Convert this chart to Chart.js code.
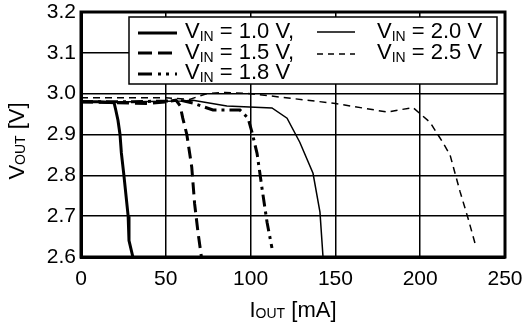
<!DOCTYPE html>
<html>
<head>
<meta charset="utf-8">
<script src="https://cdn.jsdelivr.net/npm/chart.js@4/dist/chart.umd.min.js"></script>
<style>
    body { margin: 0; background: #fff; }
    #wrap { width: 523px; height: 324px; }
</style>
</head>
<body>
<div id="wrap"><canvas id="vinChart" width="523" height="324"></canvas></div>
<script>
var xTicks = [0, 50, 100, 150, 200, 250];
var yTicks = [2.6, 2.7, 2.8, 2.9, 3.0, 3.1, 3.2];

// I_OUT [mA] / V_OUT [V]
var iVin10 = [0, 10, 19.5, 20.5, 21.8, 23, 23.8, 25.3, 27.8, 28.3, 30.6];
var vVin10 = [2.98, 2.98, 2.978, 2.96, 2.935, 2.9, 2.855, 2.8, 2.7, 2.64, 2.6];

var iVin15 = [0, 20, 40, 50, 56, 58.5, 60, 62.4, 65.3, 67, 69, 71];
var vVin15 = [2.98, 2.978, 2.976, 2.98, 2.984, 2.97, 2.94, 2.9, 2.82, 2.73, 2.66, 2.6];

var iVin18 = [0, 30, 50, 58.4, 66, 77.8, 93.7, 98.5, 100.8, 103.8, 106.7, 109.7, 112.6];
var vVin18 = [2.98, 2.98, 2.982, 2.984, 2.977, 2.96, 2.96, 2.94, 2.906, 2.854, 2.769, 2.685, 2.622];

var iVin20 = [0, 30, 60, 66, 86, 112.6, 121.5, 129, 136.8, 140.9, 142.7];
var vVin20 = [2.98, 2.98, 2.982, 2.984, 2.97, 2.965, 2.94, 2.881, 2.805, 2.71, 2.6];

var iVin25 = [0, 30, 50, 64, 74, 85, 100, 150, 180.5, 195.7, 205.8, 213.4, 217.6, 223.5, 228.2, 232.9];
var vVin25 = [2.99, 2.99, 2.99, 2.986, 3.0, 3.003, 3.0, 2.976, 2.955, 2.966, 2.93, 2.88, 2.85, 2.76, 2.695, 2.625];

var FONT = "'Liberation Sans', Arial, sans-serif";

function toPoints(xs, ys) {
    var pts = [];
    for (var i = 0; i < xs.length; i++) {
        pts.push({x: xs[i], y: ys[i]});
    }
    return pts;
}

function curve(label, xs, ys, width, dash) {
    return {
        label: label,
        data: toPoints(xs, ys),
        borderColor: "#000",
        borderWidth: width,
        borderDash: dash,
        borderCapStyle: "butt",
        pointRadius: 0,
        tension: 0,
        fill: false
    };
}

// text with a subscript part, e.g. V + IN + " = 1.0 V,"
function subText(ctx, x, y, main, sub, rest, size, subSize, drop) {
    ctx.textBaseline = "alphabetic";
    ctx.textAlign = "left";
    ctx.font = size + "px " + FONT;
    ctx.fillText(main, x, y);
    x += ctx.measureText(main).width;
    ctx.font = subSize + "px " + FONT;
    ctx.fillText(sub, x, y + drop);
    x += ctx.measureText(sub).width;
    ctx.font = size + "px " + FONT;
    ctx.fillText(rest, x, y);
    return x + ctx.measureText(rest).width;
}

function subWidth(ctx, main, sub, rest, size, subSize) {
    ctx.font = size + "px " + FONT;
    var w = ctx.measureText(main).width + ctx.measureText(rest).width;
    ctx.font = subSize + "px " + FONT;
    return w + ctx.measureText(sub).width;
}

var legendRows = [
    {x1: 138, x2: 177, y: 33, tx: 185, ty: 38, width: 3, dash: [], text: " = 1.0 V,"},
    {x1: 138, x2: 177, y: 53, tx: 185, ty: 59, width: 3, dash: [14, 6], text: " = 1.5 V,"},
    {x1: 138, x2: 177, y: 74, tx: 185, ty: 79, width: 3, dash: [14, 6, 3, 5, 3, 6], text: " = 1.8 V"},
    {x1: 317, x2: 355, y: 32, tx: 377, ty: 38, width: 1.5, dash: [], text: " = 2.0 V"},
    {x1: 317, x2: 355, y: 54, tx: 377, ty: 59, width: 1.5, dash: [6, 5], text: " = 2.5 V"}
];

var decorPlugin = {
    id: "decor",
    afterDatasetsDraw: function (chart) {
        var ctx = chart.ctx;
        var area = chart.chartArea;
        ctx.save();

        // legend box
        ctx.fillStyle = "#fff";
        ctx.fillRect(129, 17, 368, 67);
        ctx.strokeStyle = "#000";
        ctx.lineWidth = 1.5;
        ctx.strokeRect(129, 17, 368, 67);

        ctx.fillStyle = "#000";
        for (var i = 0; i < legendRows.length; i++) {
            var r = legendRows[i];
            ctx.beginPath();
            ctx.lineWidth = r.width;
            ctx.lineCap = "butt";
            ctx.setLineDash(r.dash);
            ctx.moveTo(r.x1, r.y);
            ctx.lineTo(r.x2, r.y);
            ctx.stroke();
            ctx.setLineDash([]);
            subText(ctx, r.tx, r.ty, "V", "IN", r.text, 22, 14, 3);
        }

        // frame
        ctx.lineWidth = 3;
        ctx.strokeRect(area.left, area.top, area.right - area.left, area.bottom - area.top);

        // x title
        var w = subWidth(ctx, "I", "OUT", " [mA]", 22, 14);
        subText(ctx, (area.left + area.right) / 2 - w / 2, 317, "I", "OUT", " [mA]", 22, 14, 1);

        // y title
        ctx.translate(24, 141);
        ctx.rotate(-Math.PI / 2);
        w = subWidth(ctx, "V", "OUT", " [V]", 22, 14);
        subText(ctx, -w / 2, 0, "V", "OUT", " [V]", 22, 14, 1);
        ctx.restore();
    }
};

var ctx = document.getElementById("vinChart").getContext("2d");
var chart = new Chart(ctx, {
    type: "line",
    data: {
        datasets: [
            curve("VIN = 1.0 V", iVin10, vVin10, 3, []),
            curve("VIN = 1.5 V", iVin15, vVin15, 3, [12, 6]),
            curve("VIN = 1.8 V", iVin18, vVin18, 3, [12, 5, 3, 5]),
            curve("VIN = 2.0 V", iVin20, vVin20, 1.5, []),
            curve("VIN = 2.5 V", iVin25, vVin25, 1.5, [7, 5])
        ]
    },
    options: {
        responsive: false,
        animation: false,
        layout: {
            padding: {top: 12, right: 18, left: 0, bottom: 0}
        },
        plugins: {
            legend: {display: false},
            tooltip: {enabled: false}
        },
        scales: {
            x: {
                type: "linear",
                min: xTicks[0],
                max: xTicks[xTicks.length - 1],
                afterBuildTicks: function (scale) {
                    scale.ticks = xTicks.map(function (v) { return {value: v}; });
                },
                afterFit: function (scale) {
                    scale.height = 67;
                    scale.paddingLeft = 0;
                    scale.paddingRight = 0;
                },
                ticks: {
                    color: "#000",
                    padding: 10,
                    maxRotation: 0,
                    font: {family: FONT, size: 21}
                },
                grid: {color: "#000", lineWidth: 1.5, drawTicks: false},
                border: {display: true, color: "#000", width: 3}
            },
            y: {
                type: "linear",
                min: yTicks[0],
                max: yTicks[yTicks.length - 1],
                afterBuildTicks: function (scale) {
                    scale.ticks = yTicks.map(function (v) { return {value: v}; });
                },
                afterFit: function (scale) {
                    scale.width = 81;
                    scale.paddingTop = 0;
                    scale.paddingBottom = 0;
                },
                ticks: {
                    color: "#000",
                    padding: 5,
                    font: {family: FONT, size: 21},
                    callback: function (v) { return v.toFixed(1); }
                },
                grid: {color: "#000", lineWidth: 1.5, drawTicks: false},
                border: {display: true, color: "#000", width: 3}
            }
        }
    },
    plugins: [decorPlugin]
});
</script>
</body>
</html>
